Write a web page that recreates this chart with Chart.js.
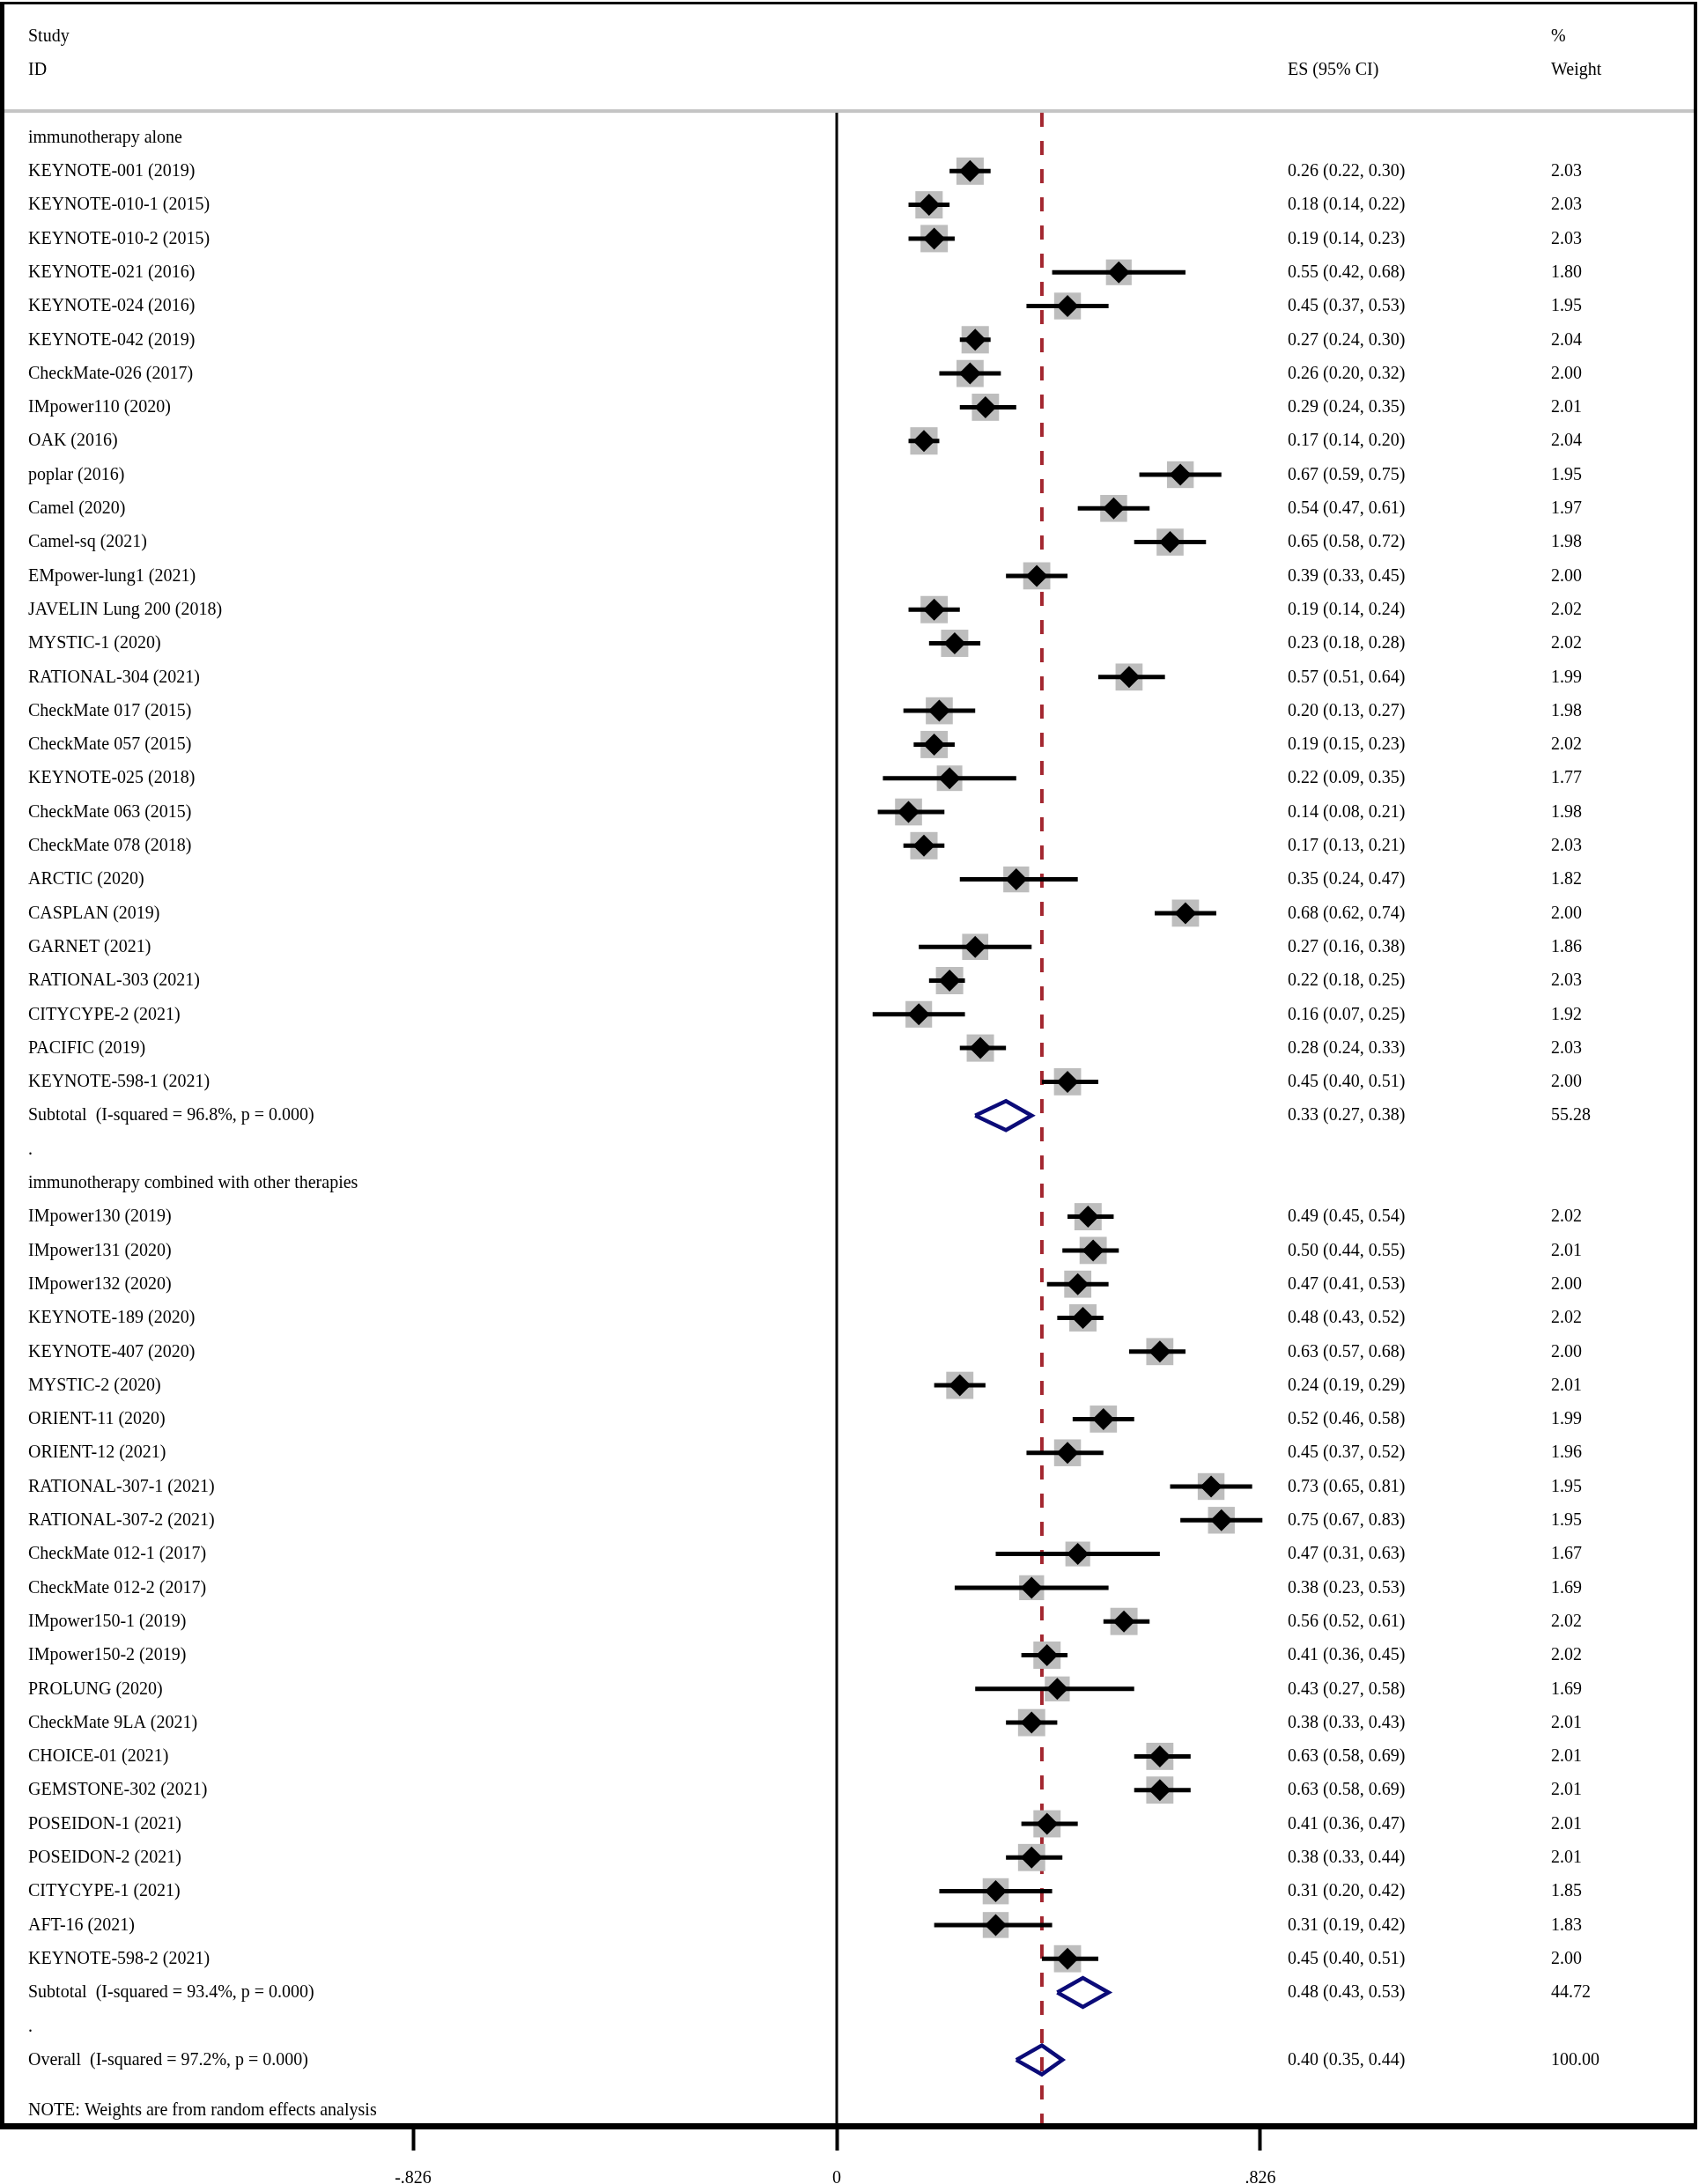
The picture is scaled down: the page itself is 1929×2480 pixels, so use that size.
<!DOCTYPE html>
<html>
<head>
<meta charset="utf-8">
<script src="https://cdn.jsdelivr.net/npm/chart.js@4.4.1/dist/chart.umd.min.js"></script>
<style>
  html, body { margin: 0; padding: 0; background: #ffffff; }
  #wrap { width: 1929px; height: 2480px; position: relative; }
  canvas { display: block; }
</style>
</head>
<body>
<div id="wrap"><canvas id="c" width="1929" height="2480"></canvas></div>
<script>
// ---------------- DATA ----------------
const groupLabels = ['immunotherapy alone', 'immunotherapy combined with other therapies'];

const studies1 = ['KEYNOTE-001 (2019)','KEYNOTE-010-1 (2015)','KEYNOTE-010-2 (2015)','KEYNOTE-021 (2016)','KEYNOTE-024 (2016)','KEYNOTE-042 (2019)','CheckMate-026 (2017)','IMpower110 (2020)','OAK (2016)','poplar (2016)','Camel (2020)','Camel-sq (2021)','EMpower-lung1 (2021)','JAVELIN Lung 200 (2018)','MYSTIC-1 (2020)','RATIONAL-304 (2021)','CheckMate 017 (2015)','CheckMate 057 (2015)','KEYNOTE-025 (2018)','CheckMate 063 (2015)','CheckMate 078 (2018)','ARCTIC (2020)','CASPLAN (2019)','GARNET (2021)','RATIONAL-303 (2021)','CITYCYPE-2 (2021)','PACIFIC (2019)','KEYNOTE-598-1 (2021)'];
const es1 = [0.26,0.18,0.19,0.55,0.45,0.27,0.26,0.29,0.17,0.67,0.54,0.65,0.39,0.19,0.23,0.57,0.20,0.19,0.22,0.14,0.17,0.35,0.68,0.27,0.22,0.16,0.28,0.45];
const lo1 = [0.22,0.14,0.14,0.42,0.37,0.24,0.20,0.24,0.14,0.59,0.47,0.58,0.33,0.14,0.18,0.51,0.13,0.15,0.09,0.08,0.13,0.24,0.62,0.16,0.18,0.07,0.24,0.40];
const hi1 = [0.30,0.22,0.23,0.68,0.53,0.30,0.32,0.35,0.20,0.75,0.61,0.72,0.45,0.24,0.28,0.64,0.27,0.23,0.35,0.21,0.21,0.47,0.74,0.38,0.25,0.25,0.33,0.51];
const w1  = [2.03,2.03,2.03,1.80,1.95,2.04,2.00,2.01,2.04,1.95,1.97,1.98,2.00,2.02,2.02,1.99,1.98,2.02,1.77,1.98,2.03,1.82,2.00,1.86,2.03,1.92,2.03,2.00];

const studies2 = ['IMpower130 (2019)','IMpower131 (2020)','IMpower132 (2020)','KEYNOTE-189 (2020)','KEYNOTE-407 (2020)','MYSTIC-2 (2020)','ORIENT-11 (2020)','ORIENT-12 (2021)','RATIONAL-307-1 (2021)','RATIONAL-307-2 (2021)','CheckMate 012-1 (2017)','CheckMate 012-2 (2017)','IMpower150-1 (2019)','IMpower150-2 (2019)','PROLUNG (2020)','CheckMate 9LA (2021)','CHOICE-01 (2021)','GEMSTONE-302 (2021)','POSEIDON-1 (2021)','POSEIDON-2 (2021)','CITYCYPE-1 (2021)','AFT-16 (2021)','KEYNOTE-598-2 (2021)'];
const es2 = [0.49,0.50,0.47,0.48,0.63,0.24,0.52,0.45,0.73,0.75,0.47,0.38,0.56,0.41,0.43,0.38,0.63,0.63,0.41,0.38,0.31,0.31,0.45];
const lo2 = [0.45,0.44,0.41,0.43,0.57,0.19,0.46,0.37,0.65,0.67,0.31,0.23,0.52,0.36,0.27,0.33,0.58,0.58,0.36,0.33,0.20,0.19,0.40];
const hi2 = [0.54,0.55,0.53,0.52,0.68,0.29,0.58,0.52,0.81,0.83,0.63,0.53,0.61,0.45,0.58,0.43,0.69,0.69,0.47,0.44,0.42,0.42,0.51];
const w2  = [2.02,2.01,2.00,2.02,2.00,2.01,1.99,1.96,1.95,1.95,1.67,1.69,2.02,2.02,1.69,2.01,2.01,2.01,2.01,2.01,1.85,1.83,2.00];

const subtotalLabels = ['Subtotal  (I-squared = 96.8%, p = 0.000)', 'Subtotal  (I-squared = 93.4%, p = 0.000)'];
const subES = [0.33, 0.48];
const subLo = [0.27, 0.43];
const subHi = [0.38, 0.53];
const subW  = [55.28, 44.72];

const overallLabel = 'Overall  (I-squared = 97.2%, p = 0.000)';
const overallES = 0.40, overallLo = 0.35, overallHi = 0.44, overallW = 100.00;

const noteText = 'NOTE: Weights are from random effects analysis';
const headerTexts = { study: 'Study', id: 'ID', es: 'ES (95% CI)', pct: '%', weight: 'Weight' };

const xTickValues = [-0.826, 0, 0.826];
const xTickLabels = ['-.826', '0', '.826'];

// ---------------- ROW LAYOUT ----------------
const rows = [];
function fmt(v){ return v.toFixed(2); }
function addGroup(g, names, es, lo, hi, w) {
  rows.push({ type: 'header', label: groupLabels[g] });
  names.forEach((n, i) => rows.push({ type: 'study', label: n, es: es[i], lo: lo[i], hi: hi[i], w: w[i] }));
  rows.push({ type: 'pooled', label: subtotalLabels[g], es: subES[g], lo: subLo[g], hi: subHi[g], w: subW[g] });
  rows.push({ type: 'dot', label: '.' });
}
addGroup(0, studies1, es1, lo1, hi1, w1);
addGroup(1, studies2, es2, lo2, hi2, w2);
rows.push({ type: 'pooled', label: overallLabel, es: overallES, lo: overallLo, hi: overallHi, w: overallW });
rows.forEach((r, i) => r.row = i);
const lastRow = rows.length - 1;
const noteRow = lastRow + 1.5;

const Y_MIN = -3.969, Y_MAX = 58.956;
const SEP_ROW = -0.78;
const X_MIN = -1.6246, X_MAX = 1.6744;

// ---------------- DATASETS ----------------
const studyRows = rows.filter(r => r.type === 'study');
const pooledRows = rows.filter(r => r.type === 'pooled');

const ciData = [];
studyRows.forEach(r => { ciData.push({x: r.lo, y: r.row}, {x: r.hi, y: r.row}, {x: null, y: null}); });

const diamondHalf = 0.43;
const poolData = [];
pooledRows.forEach(r => {
  poolData.push({x: r.lo, y: r.row}, {x: r.es, y: r.row - diamondHalf}, {x: r.hi, y: r.row},
                {x: r.es, y: r.row + diamondHalf}, {x: r.lo, y: r.row}, {x: null, y: null});
});

const FONT = '"Liberation Serif", "Times New Roman", serif';

const textPlugin = {
  id: 'forestText',
  beforeDatasetsDraw(chart) {
    const ctx = chart.ctx, ys = chart.scales.y, ca = chart.chartArea;
    ctx.save();
    ctx.fillStyle = '#c4c4c4';
    const sy = ys.getPixelForValue(SEP_ROW);
    ctx.fillRect(ca.left, sy - 2, ca.right - ca.left, 4);
    ctx.restore();
  },
  afterDraw(chart) {
    const ctx = chart.ctx, ys = chart.scales.y, ca = chart.chartArea;
    ctx.save();
    ctx.fillStyle = '#000';
    ctx.font = '20px ' + FONT;
    ctx.textBaseline = 'middle';
    ctx.textAlign = 'left';
    const xLab = ca.left + 28, xES = ca.left + 1458, xW = ca.left + 1757;
    const put = (t, x, row) => {
      ctx.save();
      ctx.translate(x, ys.getPixelForValue(row));
      ctx.scale(1, 1.1);
      ctx.fillText(t, 0, 0);
      ctx.restore();
    };
    put(headerTexts.study, xLab, -3);
    put(headerTexts.id, xLab, -2);
    put(headerTexts.pct, xW, -3);
    put(headerTexts.weight, xW, -2);
    put(headerTexts.es, xES, -2);
    rows.forEach(r => {
      put(r.label, xLab, r.row);
      if (r.type === 'study' || r.type === 'pooled') {
        put(fmt(r.es) + ' (' + fmt(r.lo) + ', ' + fmt(r.hi) + ')', xES, r.row);
        put(fmt(r.w), xW, r.row);
      }
    });
    put(noteText, xLab, noteRow);
    // frame
    ctx.fillStyle = '#000';
    ctx.fillRect(0, ca.top - 2, ca.right + 2, 3);
    ctx.fillRect(0, ca.top - 2, 5, ca.bottom - ca.top + 6);
    ctx.fillRect(ca.right - 2, ca.top - 2, 4, ca.bottom - ca.top + 6);
    ctx.fillRect(0, ca.bottom - 3, ca.right + 2, 7);
    ctx.restore();
  }
};

const chart = new Chart(document.getElementById('c'), {
  type: 'scatter',
  data: {
    datasets: [
      {
        label: 'ES', order: 1,
        data: studyRows.map(r => ({x: r.es, y: r.row})),
        pointStyle: 'rectRot', pointRadius: 12.5, backgroundColor: '#000', borderWidth: 0
      },
      {
        label: 'CI', order: 2, showLine: true, spanGaps: false,
        data: ciData, borderColor: '#000', borderWidth: 5, pointRadius: 0, borderCapStyle: 'butt'
      },
      {
        label: 'Weight', order: 3,
        data: studyRows.map(r => ({x: r.es, y: r.row})),
        pointStyle: 'rect',
        pointRadius: ctx => { const r = studyRows[ctx.dataIndex]; return r ? 15.39 * Math.sqrt(r.w) : 0; },
        backgroundColor: '#bdbdbd', borderWidth: 0
      },
      {
        label: 'Pooled', order: 4, showLine: true, spanGaps: false,
        data: poolData, borderColor: '#0b0b78', borderWidth: 4.5, pointRadius: 0, fill: false, borderJoinStyle: 'miter'
      },
      {
        label: 'Overall', order: 5, showLine: true,
        data: [{x: overallES, y: SEP_ROW + 0.05}, {x: overallES, y: Y_MAX}],
        borderColor: '#a3262f', borderWidth: 4, borderDash: [16, 16], pointRadius: 0
      },
      {
        label: 'Zero', order: 6, showLine: true,
        data: [{x: 0, y: SEP_ROW + 0.05}, {x: 0, y: Y_MAX}],
        borderColor: '#000', borderWidth: 3, pointRadius: 0
      }
    ]
  },
  options: {
    responsive: false,
    animation: false,
    devicePixelRatio: 1,
    events: [],
    layout: { autoPadding: false, padding: { left: 4, right: 4, top: 4, bottom: 0 } },
    plugins: { legend: { display: false }, tooltip: { enabled: false }, title: { display: false } },
    scales: {
      x: {
        type: 'linear', position: 'bottom', min: X_MIN, max: X_MAX,
        afterBuildTicks: s => { s.ticks = xTickValues.map(v => ({ value: v })); },
        afterFit: s => { s.height = 66; },
        border: { display: false },
        grid: { drawOnChartArea: false, drawTicks: true, tickLength: 28, tickWidth: 4, tickColor: '#000' },
        ticks: {
          autoSkip: false, maxRotation: 0, padding: 20, color: '#000',
          font: { family: FONT, size: 20 },
          callback: (v) => { const i = xTickValues.indexOf(v); return i >= 0 ? xTickLabels[i] : ''; }
        }
      },
      y: {
        type: 'linear', display: false, reverse: true, min: Y_MIN, max: Y_MAX
      }
    }
  },
  plugins: [textPlugin]
});
</script>
</body>
</html>
